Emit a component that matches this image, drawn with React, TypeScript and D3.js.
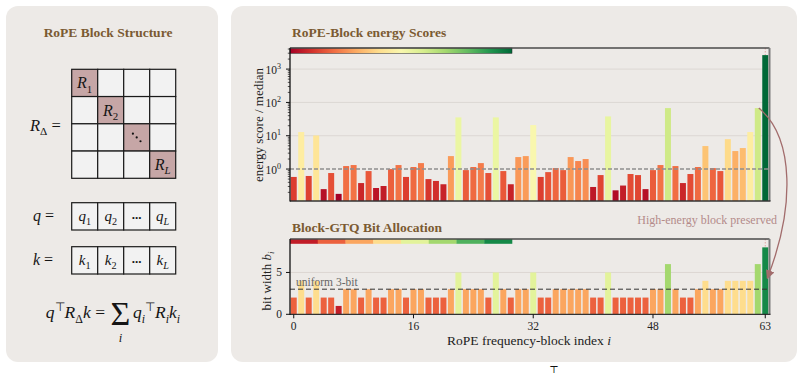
import React, { useRef, useEffect } from 'react';
import * as d3 from 'd3';

// RoPE block indices and what the figure shows for each block
const blockIndex = d3.range(64);
const energyScores = [
  0.58, 12.9, 0.62, 10.2, 0.25, 0.76, 0.18, 1.23, 1.32, 0.38,
  0.87, 0.27, 0.31, 1.0, 1.32, 0.58, 1.15, 1.51, 0.5, 0.44,
  0.35, 2.45, 35.5, 0.93, 1.15, 1.51, 0.76, 35.5, 0.87, 0.35,
  2.29, 2.45, 20.9, 0.58, 0.81, 1.07, 0.93, 2.29, 1.74, 2.0,
  0.29, 0.66, 38, 0.23, 0.32, 0.71, 0.66, 0.25, 0.93, 1.32,
  67.6, 1.23, 0.38, 0.71, 1.15, 4.9, 1.07, 0.87, 7.9, 3.47,
  4.27, 12.9, 67.6, 2630,
];
const bitWidths = [
  2, 4, 2, 4, 2, 2, 1, 3, 3, 2,
  3, 2, 2, 3, 3, 2, 3, 3, 2, 2,
  2, 3, 5, 3, 3, 3, 2, 5, 3, 2,
  3, 3, 5, 2, 2, 3, 3, 3, 3, 3,
  2, 2, 5, 2, 2, 2, 2, 2, 3, 3,
  6, 3, 2, 2, 3, 4, 3, 3, 4, 4,
  4, 4, 6, 8,
];
const energyTicks = [1, 10, 100, 1000];
const bitTicks = [0, 5];
const indexTicks = [0, 16, 32, 48, 63];
const bitLevels = [1, 2, 3, 4, 5, 6, 7, 8];
const uniformBits = 3;
const highBlock = 63;

// where each bit level sits on the RdYlGn ramp
const bitTone = [0.06, 0.18, 0.29, 0.4, 0.57, 0.7, 0.83, 0.93];

const SERIF = '"Liberation Serif", "Times New Roman", serif';
const BROWN = '#7b5a32';
const PANEL = '#edeae7';

type Part = [string, string];

// small helper for italic / sub / sup math text
function mathText(parent: any, x: number, y: number, parts: Part[], size: number, anchor = 'start') {
  const t = parent.append('text')
    .attr('x', x).attr('y', y)
    .attr('font-family', SERIF)
    .attr('font-size', size)
    .attr('text-anchor', anchor)
    .attr('fill', '#151515');
  let shift = 0;
  parts.forEach(([s, kind]) => {
    const small = kind.startsWith('sub') || kind === 'sup';
    const target = kind.startsWith('sub') ? size * 0.27 : kind === 'sup' ? -size * 0.4 : 0;
    const ts = t.append('tspan').attr('dy', target - shift).text(s);
    shift = target;
    if (small) ts.attr('font-size', size * 0.68);
    if (kind === 'i' || kind === 'subi') ts.attr('font-style', 'italic');
  });
  return t;
}

function App() {
  const svgRef = useRef<SVGSVGElement>(null);

  useEffect(() => {
    const svg = d3.select(svgRef.current);
    svg.selectAll('*').remove();

    // panels
    svg.append('rect').attr('x', 6).attr('y', 6).attr('width', 212).attr('height', 356)
      .attr('rx', 12).attr('fill', PANEL);
    svg.append('rect').attr('x', 231).attr('y', 6).attr('width', 566).attr('height', 356)
      .attr('rx', 12).attr('fill', PANEL);

    // ---------- left panel ----------
    const left = svg.append('g');
    left.append('text').attr('x', 108).attr('y', 37).attr('text-anchor', 'middle')
      .attr('font-family', SERIF).attr('font-weight', 'bold').attr('font-size', 13.5)
      .attr('fill', BROWN).text('RoPE Block Structure');

    const cells = [0, 1, 2, 3];
    const mx = d3.scaleBand<number>().domain(cells).range([71.7, 175.7]);
    const my = d3.scaleBand<number>().domain(cells).range([69.3, 178.3]);
    cells.forEach(r => cells.forEach(c => {
      left.append('rect').attr('x', mx(c)!).attr('y', my(r)!)
        .attr('width', mx.bandwidth()).attr('height', my.bandwidth())
        .attr('fill', r === c ? '#c6a6a6' : '#f2f2f2')
        .attr('stroke', '#1a1a1a').attr('stroke-width', 1.2);
    }));
    const diagLabels: (Part[] | null)[] = [
      [['R', 'i'], ['1', 'sub']],
      [['R', 'i'], ['2', 'sub']],
      null,
      [['R', 'i'], ['L', 'subi']],
    ];
    diagLabels.forEach((parts, k) => {
      const cx = mx(k)! + mx.bandwidth() / 2;
      const cy = my(k)! + my.bandwidth() / 2;
      if (parts) {
        mathText(left, cx, cy + 5.5, parts, 16, 'middle');
      } else {
        [-3.8, 0, 3.8].forEach(o => {
          left.append('circle').attr('cx', cx + o).attr('cy', cy + o).attr('r', 1.1).attr('fill', '#111');
        });
      }
    });
    mathText(left, 30, 131, [['R', 'i'], ['Δ', 'sub'], [' =', 'n']], 16.5);

    const vecRows: { name: string; y0: number; y1: number }[] = [
      { name: 'q', y0: 202.7, y1: 230 },
      { name: 'k', y0: 246.7, y1: 274 },
    ];
    const vecSubs = ['1', '2', null, 'L'];
    vecRows.forEach(row => {
      mathText(left, 33, (row.y0 + row.y1) / 2 + 5, [[row.name, 'i'], [' =', 'n']], 16);
      cells.forEach(c => {
        left.append('rect').attr('x', mx(c)!).attr('y', row.y0)
          .attr('width', mx.bandwidth()).attr('height', row.y1 - row.y0)
          .attr('fill', '#f2f2f2').attr('stroke', '#1a1a1a').attr('stroke-width', 1.2);
        const cx = mx(c)! + mx.bandwidth() / 2;
        const cy = (row.y0 + row.y1) / 2;
        const sub = vecSubs[c];
        if (sub) {
          mathText(left, cx, cy + 5, [[row.name, 'i'], [sub, sub === 'L' ? 'subi' : 'sub']], 15, 'middle');
        } else {
          left.append('text').attr('x', cx).attr('y', cy + 3).attr('text-anchor', 'middle')
            .attr('font-family', SERIF).attr('font-weight', 'bold').attr('font-size', 13)
            .attr('fill', '#151515').text('...');
        }
      });
    });

    // q^T R_Δ k = Σ_i q_i^T R_i k_i
    mathText(left, 105, 318, [['q', 'i'], ['⊤', 'sup'], ['R', 'i'], ['Δ', 'sub'], ['k', 'i'], [' =', 'n']], 17.5, 'end');
    left.append('text').attr('x', 120.5).attr('y', 325).attr('text-anchor', 'middle')
      .attr('font-family', SERIF).attr('font-size', 34).attr('fill', '#151515').text('Σ');
    left.append('text').attr('x', 120.5).attr('y', 342).attr('text-anchor', 'middle')
      .attr('font-family', SERIF).attr('font-style', 'italic').attr('font-size', 12.5)
      .attr('fill', '#151515').text('i');
    mathText(left, 133, 318, [['q', 'i'], ['i', 'subi'], ['⊤', 'sup'], ['R', 'i'], ['i', 'subi'], ['k', 'i'], ['i', 'subi']], 17.5);

    // ---------- right panel: shared x ----------
    const x = d3.scaleBand<number>().domain(blockIndex).range([290, 769])
      .paddingInner(0.2).paddingOuter(0.1);
    const xc = (i: number) => x(i)! + x.bandwidth() / 2;
    const plotL = 290;
    const plotR = 769.5;

    const defs = svg.append('defs');
    const grad = defs.append('linearGradient').attr('id', 'rdylgn');
    d3.range(0, 1.001, 0.1).forEach(t => {
      grad.append('stop').attr('offset', t).attr('stop-color', d3.interpolateRdYlGn(t));
    });
    defs.append('marker').attr('id', 'arrowHead').attr('viewBox', '0 0 10 10')
      .attr('refX', 9).attr('refY', 5).attr('markerWidth', 9).attr('markerHeight', 9)
      .attr('orient', 'auto-start-reverse').attr('markerUnits', 'userSpaceOnUse')
      .append('path').attr('d', 'M0,0 L10,5 L0,10 z').attr('fill', '#a26c6c');

    const frame = (g: any, top: number, bottom: number) => {
      g.append('line').attr('x1', plotL).attr('x2', plotR).attr('y1', top).attr('y2', top)
        .attr('stroke', '#4a4a4a').attr('stroke-width', 1.5);
      g.append('line').attr('x1', plotR).attr('x2', plotR).attr('y1', top).attr('y2', bottom)
        .attr('stroke', '#7a7a7a').attr('stroke-width', 2);
      g.append('line').attr('x1', plotL).attr('x2', plotR + 1).attr('y1', bottom).attr('y2', bottom)
        .attr('stroke', '#333').attr('stroke-width', 1.3);
      g.append('line').attr('x1', plotL).attr('x2', plotL).attr('y1', top).attr('y2', bottom + 0.6)
        .attr('stroke', '#111').attr('stroke-width', 1.3);
    };

    // ---------- top: energy scores ----------
    const topG = svg.append('g');
    const eTop = 48, eBot = 201;
    const yE = d3.scaleLog().domain([0.11, 4300]).range([eBot, eTop]);
    const eTone = d3.scaleLog().domain(d3.extent(energyScores) as [number, number]).range([0, 1]);

    topG.append('text').attr('x', 292).attr('y', 37).attr('font-family', SERIF)
      .attr('font-weight', 'bold').attr('font-size', 13.5).attr('fill', BROWN)
      .text('RoPE-Block energy Scores');

    energyTicks.slice(1).forEach(v => {
      topG.append('line').attr('x1', plotL).attr('x2', plotR).attr('y1', yE(v)).attr('y2', yE(v))
        .attr('stroke', '#dcd7d3').attr('stroke-width', 1);
    });
    topG.append('line').attr('x1', xc(highBlock)).attr('x2', xc(highBlock))
      .attr('y1', eTop).attr('y2', eBot).attr('stroke', '#e0a4a4')
      .attr('stroke-dasharray', '1.5,1.5').attr('stroke-width', 1);

    topG.selectAll('rect.ebar').data(energyScores).join('rect').attr('class', 'ebar')
      .attr('x', (d, i) => x(i)!).attr('width', x.bandwidth())
      .attr('y', d => yE(d)).attr('height', d => eBot - yE(d))
      .attr('fill', d => d3.interpolateRdYlGn(eTone(d)));

    topG.append('line').attr('x1', plotL).attr('x2', plotR).attr('y1', yE(1)).attr('y2', yE(1))
      .attr('stroke', '#8f8f8f').attr('stroke-width', 1.4).attr('stroke-dasharray', '4,2');

    topG.append('rect').attr('x', plotL).attr('y', eTop).attr('width', 222).attr('height', 5.3)
      .attr('fill', 'url(#rdylgn)').attr('stroke', '#222').attr('stroke-width', 0.5);
    frame(topG, eTop, eBot);

    // log ticks
    const minorTicks: number[] = [];
    [-1, 0, 1, 2, 3].forEach(k => d3.range(2, 10).forEach(m => {
      const v = m * Math.pow(10, k);
      if (v > 0.11 && v < 4300) minorTicks.push(v);
    }));
    minorTicks.forEach(v => {
      topG.append('line').attr('x1', plotL - 2.2).attr('x2', plotL).attr('y1', yE(v)).attr('y2', yE(v))
        .attr('stroke', '#111').attr('stroke-width', 0.7);
    });
    energyTicks.forEach(v => {
      topG.append('line').attr('x1', plotL - 4).attr('x2', plotL).attr('y1', yE(v)).attr('y2', yE(v))
        .attr('stroke', '#111').attr('stroke-width', 1);
      const t = topG.append('text').attr('x', 281).attr('y', yE(v) + 4.5).attr('text-anchor', 'end')
        .attr('font-family', SERIF).attr('font-size', 11.5).attr('fill', '#222');
      t.append('tspan').text('10');
      t.append('tspan').attr('dy', -5).attr('font-size', 8).text(String(Math.round(Math.log10(v))));
    });
    topG.append('text').attr('transform', 'translate(263,125) rotate(-90)').attr('text-anchor', 'middle')
      .attr('font-family', SERIF).attr('font-size', 13).attr('fill', '#222')
      .text('energy score / median');

    // ---------- bottom: bit allocation ----------
    const botG = svg.append('g');
    const bTop = 239, bBot = 314.3;
    const yB = d3.scaleLinear().domain([0, 9]).range([bBot, bTop]);
    const bitColor = (b: number) => d3.interpolateRdYlGn(bitTone[b - 1]);

    botG.append('text').attr('x', 292).attr('y', 232).attr('font-family', SERIF)
      .attr('font-weight', 'bold').attr('font-size', 13.5).attr('fill', BROWN)
      .text('Block-GTQ Bit Allocation');

    botG.append('line').attr('x1', plotL).attr('x2', plotR).attr('y1', yB(5)).attr('y2', yB(5))
      .attr('stroke', '#dcd7d3').attr('stroke-width', 1);
    botG.append('line').attr('x1', xc(highBlock)).attr('x2', xc(highBlock))
      .attr('y1', bTop).attr('y2', bBot).attr('stroke', '#e0a4a4')
      .attr('stroke-dasharray', '1.5,1.5').attr('stroke-width', 1);

    botG.selectAll('rect.bbar').data(bitWidths).join('rect').attr('class', 'bbar')
      .attr('x', (d, i) => x(i)!).attr('width', x.bandwidth())
      .attr('y', d => yB(d)).attr('height', d => bBot - yB(d))
      .attr('fill', d => bitColor(d));

    botG.append('line').attr('x1', plotL).attr('x2', plotR)
      .attr('y1', yB(uniformBits)).attr('y2', yB(uniformBits))
      .attr('stroke', '#333').attr('stroke-width', 1).attr('stroke-dasharray', '5,3');
    botG.append('text').attr('x', 296).attr('y', 285.5).attr('font-family', SERIF)
      .attr('font-size', 11.5).attr('fill', '#666').text('uniform 3-bit');

    const segW = 222 / bitLevels.length;
    bitLevels.forEach((b, k) => {
      botG.append('rect').attr('x', plotL + k * segW).attr('y', bTop).attr('width', segW + 0.3)
        .attr('height', 4.8).attr('fill', bitColor(b));
    });
    frame(botG, bTop, bBot);

    bitTicks.forEach(v => {
      botG.append('line').attr('x1', plotL - 4).attr('x2', plotL).attr('y1', yB(v)).attr('y2', yB(v))
        .attr('stroke', '#111').attr('stroke-width', 1);
      botG.append('text').attr('x', 282).attr('y', yB(v) + 4).attr('text-anchor', 'end')
        .attr('font-family', SERIF).attr('font-size', 11.5).attr('fill', '#222').text(v);
    });
    indexTicks.forEach(i => {
      botG.append('line').attr('x1', xc(i)).attr('x2', xc(i)).attr('y1', bBot).attr('y2', bBot + 4)
        .attr('stroke', '#111').attr('stroke-width', 1);
      botG.append('text').attr('x', xc(i)).attr('y', 329.5).attr('text-anchor', 'middle')
        .attr('font-family', SERIF).attr('font-size', 11.5).attr('fill', '#222').text(i);
    });
    const yl = botG.append('text').attr('transform', 'translate(271,281) rotate(-90)')
      .attr('text-anchor', 'middle').attr('font-family', SERIF).attr('font-size', 13).attr('fill', '#222');
    yl.append('tspan').text('bit width ');
    yl.append('tspan').attr('font-style', 'italic').text('b');
    yl.append('tspan').attr('font-style', 'italic').attr('font-size', 9).attr('dy', 3).text('i');

    const xl = botG.append('text').attr('x', 529).attr('y', 344.5).attr('text-anchor', 'middle')
      .attr('font-family', SERIF).attr('font-size', 13.5).attr('fill', '#222');
    xl.append('tspan').text('RoPE frequency-block index ');
    xl.append('tspan').attr('font-style', 'italic').text('i');

    // ---------- annotation ----------
    svg.append('text').attr('x', 777).attr('y', 224).attr('text-anchor', 'end')
      .attr('font-family', SERIF).attr('font-size', 12).attr('fill', '#b48a8a')
      .text('High-energy block preserved');
    const x0 = xc(highBlock - 1) + 1, y0 = yE(energyScores[highBlock - 1]);
    const x1 = xc(highBlock) + 2, y1 = yB(4.3);
    svg.append('path')
      .attr('d', `M${x0},${y0} C${x0 + 36},${y0 + 30} ${x0 + 36},${y1 - 70} ${x1},${y1}`)
      .attr('fill', 'none').attr('stroke', '#a26c6c').attr('stroke-width', 1.3)
      .attr('marker-end', 'url(#arrowHead)');

    // glyph peeking in at the bottom edge
    svg.append('text').attr('x', 554).attr('y', 373).attr('text-anchor', 'middle')
      .attr('font-family', '"DejaVu Serif", serif').attr('font-size', 10).attr('fill', '#111').text('⊤');
  }, []);

  return (
    <svg ref={svgRef} width={803} height={374}
      style={{ position: 'absolute', left: 0, top: 0, background: '#fff' }} />
  );
}

export default App;
